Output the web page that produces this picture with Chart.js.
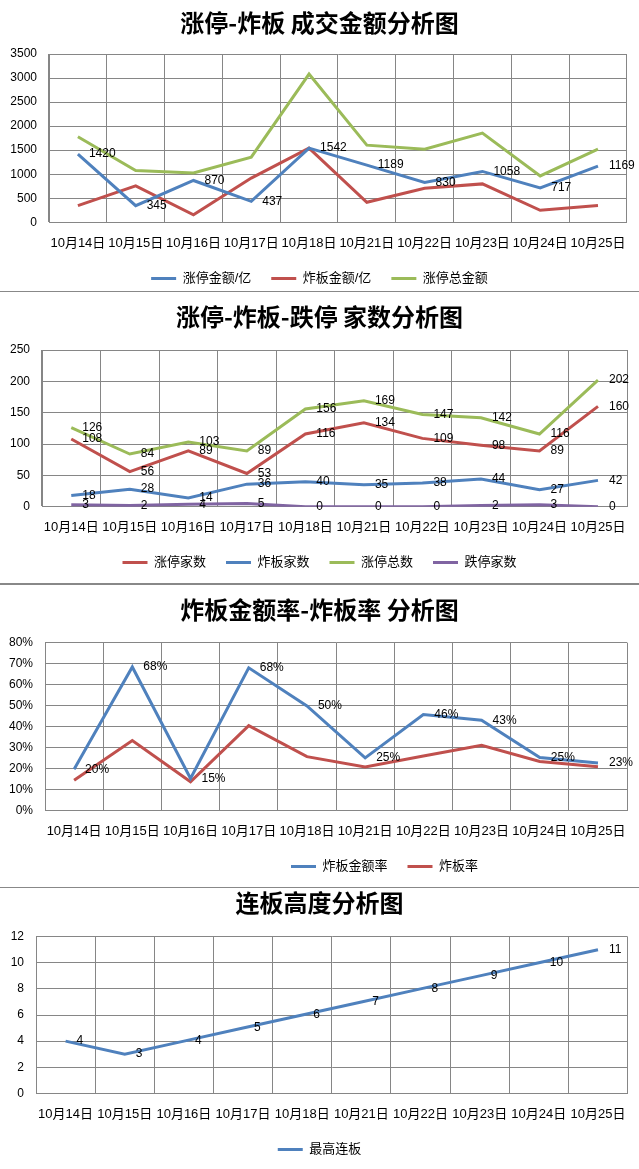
<!DOCTYPE html>
<html>
<head>
<meta charset="utf-8">
<script src="https://cdn.jsdelivr.net/npm/chart.js@4.4.1/dist/chart.umd.min.js"></script>
<style>
  body { margin: 0; background: #fff; width: 639px; height: 1169px; position: relative; overflow: hidden; }
  canvas { position: absolute; left: 0; }
  .sep { position: absolute; left: 0; width: 639px; background: #888; }
</style>
</head>
<body>
<canvas id="c1" width="639" height="295" style="top:0px"></canvas>
<canvas id="c2" width="639" height="289" style="top:290px"></canvas>
<canvas id="c3" width="639" height="298" style="top:585px"></canvas>
<canvas id="c4" width="639" height="281" style="top:885px"></canvas>
<div class="sep" style="top:291px;height:1px"></div>
<div class="sep" style="top:583px;height:2px"></div>
<div class="sep" style="top:887px;height:1px"></div>
<script>
// dates
const days = ["10月14日", "10月15日", "10月16日", "10月17日", "10月18日", "10月21日", "10月22日", "10月23日", "10月24日", "10月25日"];

// chart 1 - 成交金额
const ztAmount = [1420, 345, 870, 437, 1542, 1189, 830, 1058, 717, 1169];
const zbAmount = [347, 757, 155, 920, 1542, 417, 708, 799, 250, 347];
const ztTotalAmount = [1778, 1076, 1025, 1354, 3083, 1604, 1521, 1854, 965, 1521];

// chart 2 - 家数
const ztCount = [108, 56, 89, 53, 116, 134, 109, 98, 89, 160];
const zbCount = [18, 28, 14, 36, 40, 35, 38, 44, 27, 42];
const ztTotalCount = [126, 84, 103, 89, 156, 169, 147, 142, 116, 202];
const dtCount = [3, 2, 4, 5, 0, 0, 0, 2, 3, 0];

// chart 3 - 炸板率 (%)
const zbAmountRate = [19.6, 68.4, 15.2, 68.0, 49.8, 25.0, 45.7, 43.0, 25.2, 22.6];
const zbRate = [14.3, 33.3, 13.6, 40.4, 25.6, 20.7, 25.9, 31.0, 23.3, 20.8];

// chart 4 - 连板高度
const maxBoard = [4, 3, 4, 5, 6, 7, 8, 9, 10, 11];

const BLUE = "#4F81BD";
const RED = "#C0504D";
const GREEN = "#9BBB59";
const PURPLE = "#8064A2";
const GRID = "#868686";
const FONT = '"Liberation Sans", "Noto Sans CJK SC", sans-serif';

Chart.defaults.font.family = FONT;
Chart.defaults.color = "#000";

// number labels to the right of each point
const dataLabels = {
  id: "dataLabels",
  afterDatasetsDraw(chart, args, opts) {
    const ctx = chart.ctx;
    ctx.save();
    ctx.font = "12px " + FONT;
    ctx.fillStyle = "#000";
    ctx.textAlign = "left";
    ctx.textBaseline = "middle";
    chart.data.datasets.forEach((ds, i) => {
      if (!ds.showLabels) return;
      chart.getDatasetMeta(i).data.forEach((pt, j) => {
        ctx.fillText(opts.format(ds.data[j]), pt.x + 11, pt.y);
      });
    });
    ctx.restore();
  }
};

// move the legend sideways (chart 3 legend sits right of centre)
const legendShift = {
  id: "legendShift",
  afterLayout(chart, args, opts) {
    if (opts.dx && chart.legend) {
      chart.legend.left += opts.dx;
      chart.legend.right += opts.dx;
    }
  }
};

function line(label, data, color, showLabels) {
  return {
    label: label,
    data: data,
    borderColor: color,
    backgroundColor: color,
    borderWidth: 3,
    pointRadius: 0,
    tension: 0,
    showLabels: showLabels
  };
}

function makeChart(id, cfg) {
  return new Chart(document.getElementById(id), {
    type: "line",
    data: { labels: days, datasets: cfg.datasets },
    plugins: [dataLabels, legendShift],
    options: {
      responsive: false,
      animation: false,
      devicePixelRatio: 1,
      layout: { padding: 0 },
      plugins: {
        title: {
          display: true,
          text: cfg.title,
          color: "#000",
          font: { size: 24, weight: "bold", family: '"Noto Sans CJK SC", sans-serif' },
          padding: { top: cfg.titleTop, bottom: cfg.titleBottom }
        },
        legend: {
          position: "bottom",
          labels: {
            usePointStyle: true,
            pointStyle: "line",
            pointStyleWidth: 25,
            padding: 20,
            color: "#000",
            font: { size: 13 }
          }
        },
        tooltip: { enabled: false },
        dataLabels: { format: cfg.format || (v => String(v)) },
        legendShift: { dx: cfg.legendDx || 0 }
      },
      scales: {
        x: {
          offset: true,
          grid: { offset: true, color: GRID, drawTicks: false },
          border: { color: GRID },
          ticks: { padding: 13, maxRotation: 0, autoSkip: false, font: { size: 13 } },
          afterFit(s) { s.height = cfg.xHeight; }
        },
        y: {
          min: 0,
          max: cfg.yMax,
          grid: { color: GRID, drawTicks: false },
          border: { color: GRID },
          ticks: {
            stepSize: cfg.yStep,
            padding: 12,
            font: { size: 12 },
            callback: cfg.yTick || (v => v)
          },
          afterFit(s) { s.width = cfg.plotLeft; }
        },
        yr: {
          position: "right",
          grid: { display: false },
          border: { display: false },
          ticks: { display: false },
          afterFit(s) { s.width = 11; }
        }
      }
    }
  });
}

makeChart("c1", {
  title: "涨停-炸板 成交金额分析图",
  titleTop: 8.6, titleBottom: 16.6,
  xHeight: 29.7, plotLeft: 49,
  yMax: 3500, yStep: 500,
  datasets: [
    line("涨停金额/亿", ztAmount, BLUE, true),
    line("炸板金额/亿", zbAmount, RED, false),
    line("涨停总金额", ztTotalAmount, GREEN, false)
  ]
});

makeChart("c2", {
  title: "涨停-炸板-跌停 家数分析图",
  titleTop: 12.3, titleBottom: 18.9,
  xHeight: 29.3, plotLeft: 42,
  yMax: 250, yStep: 50,
  datasets: [
    line("涨停家数", ztCount, RED, true),
    line("炸板家数", zbCount, BLUE, true),
    line("涨停总数", ztTotalCount, GREEN, true),
    line("跌停家数", dtCount, PURPLE, true)
  ]
});

makeChart("c3", {
  title: "炸板金额率-炸板率 分析图",
  titleTop: 10.6, titleBottom: 18.3,
  xHeight: 29.7, plotLeft: 45,
  yMax: 80, yStep: 10,
  yTick: v => v + "%",
  format: v => Math.round(v) + "%",
  legendDx: 65,
  datasets: [
    line("炸板金额率", zbAmountRate, BLUE, true),
    line("炸板率", zbRate, RED, false)
  ]
});

makeChart("c4", {
  title: "连板高度分析图",
  titleTop: 3.9, titleBottom: 19,
  xHeight: 29.7, plotLeft: 36,
  yMax: 12, yStep: 2,
  datasets: [
    line("最高连板", maxBoard, BLUE, true)
  ]
});
</script>
</body>
</html>
